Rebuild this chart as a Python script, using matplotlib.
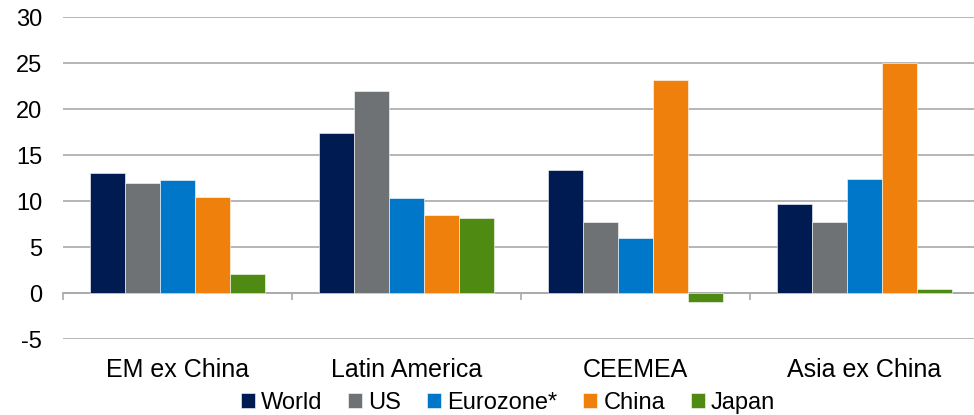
import numpy as np
import matplotlib
matplotlib.use("Agg")
from matplotlib import pyplot as plt

regions = ["EM ex China", "Latin America", "CEEMEA", "Asia ex China"]
series = ["World", "US", "Eurozone*", "China", "Japan"]
world = [13.0, 17.4, 13.4, 9.7]
us = [11.95, 21.95, 7.7, 7.7]
eurozone = [12.3, 10.3, 5.95, 12.4]
china = [10.45, 8.5, 23.1, 24.95]
japan = [2.05, 8.15, -0.95, 0.45]
colors = ["#001B52", "#6E7274", "#0077C8", "#EF800B", "#4F8A12"]

values = [world, us, eurozone, china, japan]

plt.rcParams["font.family"] = ["Liberation Sans", "DejaVu Sans"]
plt.rcParams["font.size"] = 17
plt.rcParams["axes.unicode_minus"] = False

fig = plt.figure(figsize=(9.74, 4.15), dpi=100)
ax = fig.add_axes([63 / 974, 76 / 415, 916 / 974, 322 / 415])

x = np.arange(len(regions))
width = 0.153
for i, (name, vals, c) in enumerate(zip(series, values, colors)):
    ax.bar(x + (i - 2) * width, vals, width, color=c, label=name,
           edgecolor="white", linewidth=0.4, zorder=3)

ax.set_xlim(-0.5, len(regions) - 0.5)
ax.set_ylim(-5, 30)
ax.set_yticks(range(-5, 31, 5))
ax.yaxis.grid(True, color="#A8A9AB", linewidth=1.2, zorder=0)
ax.set_axisbelow(True)
ax.tick_params(axis="y", length=0, pad=15, labelsize=17)

for s in ["top", "right", "left"]:
    ax.spines[s].set_visible(False)
ax.spines["bottom"].set_position(("data", 0))
ax.spines["bottom"].set_color("#A8A9AB")
ax.spines["bottom"].set_linewidth(1.2)

ax.set_xticks(x)
ax.set_xticklabels(regions)
ax.set_xticks(np.arange(len(regions) + 1) - 0.5, minor=True)
ax.tick_params(axis="x", which="major", length=0, pad=47, labelsize=18)
ax.tick_params(axis="x", which="minor", length=5, width=1.2, color="#A8A9AB",
               direction="out")

fig.legend(loc="center", bbox_to_anchor=(508 / 974, 1 - 403 / 415), ncol=5,
           frameon=False, handlelength=0.6, handleheight=0.6,
           handletextpad=0.25, columnspacing=1.1, fontsize=17,
           borderaxespad=0)

fig.savefig("out.png", dpi=100)
